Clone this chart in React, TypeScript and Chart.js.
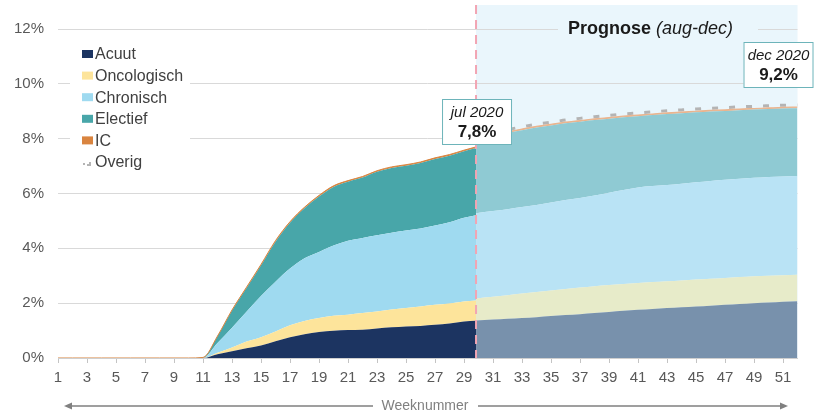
import React, { useEffect, useRef } from 'react';
import { Chart, registerables } from 'chart.js';

Chart.register(...registerables);

const FONT = '"Liberation Sans", Arial, Helvetica, sans-serif';

// week where the forecast (prognose) starts
const forecastStart = 29.83;

const histWeeks = [1, 2, 3, 4, 5, 6, 7, 8, 9, 10, 11, 12, 13, 14, 15, 16, 17, 18, 19, 20, 21, 22, 23, 24, 25, 26, 27, 28, 29, forecastStart];
const progWeeks = [forecastStart, 31, 32, 33, 34, 35, 36, 37, 38, 39, 40, 41, 42, 43, 44, 45, 46, 47, 48, 49, 50, 51, 52];
const weekTicks = [1, 3, 5, 7, 9, 11, 13, 15, 17, 19, 21, 23, 25, 27, 29, 31, 33, 35, 37, 39, 41, 43, 45, 47, 49, 51];

const seriesLabels = ['Acuut', 'Oncologisch', 'Chronisch', 'Electief', 'IC', 'Overig'];

// historical values (% per category), weeks 1..29 + start of forecast
const acuutHist = [0, 0, 0, 0, 0, 0, 0, 0, 0, 0, 0, 0.14, 0.25, 0.36, 0.46, 0.61, 0.76, 0.87, 0.95, 0.99, 1.02, 1.03, 1.08, 1.12, 1.15, 1.17, 1.21, 1.26, 1.33, 1.36];
const oncoHist = [0, 0, 0, 0, 0, 0, 0, 0, 0, 0, 0, 0.05, 0.13, 0.24, 0.30, 0.36, 0.43, 0.48, 0.51, 0.55, 0.56, 0.61, 0.62, 0.65, 0.67, 0.71, 0.73, 0.73, 0.73, 0.74];
const chronHist = [0, 0, 0, 0, 0, 0, 0, 0, 0, 0, 0.01, 0.36, 0.72, 1.09, 1.50, 1.81, 2.07, 2.29, 2.41, 2.56, 2.70, 2.74, 2.78, 2.80, 2.83, 2.84, 2.89, 2.96, 3.06, 3.11];
const electHist = [0, 0, 0, 0, 0, 0, 0, 0, 0, 0, 0.01, 0.24, 0.63, 0.86, 1.12, 1.46, 1.67, 1.82, 2.02, 2.14, 2.15, 2.20, 2.31, 2.36, 2.36, 2.39, 2.43, 2.43, 2.42, 2.45];
const icHist = [0, 0, 0, 0, 0, 0, 0, 0, 0, 0, 0, 0.01, 0.02, 0.03, 0.03, 0.04, 0.04, 0.04, 0.04, 0.04, 0.04, 0.04, 0.04, 0.04, 0.04, 0.04, 0.04, 0.04, 0.04, 0.04];

// forecast values (% per category)
const acuutProg = [1.37, 1.40, 1.43, 1.46, 1.49, 1.53, 1.57, 1.60, 1.64, 1.68, 1.72, 1.76, 1.79, 1.82, 1.85, 1.88, 1.91, 1.94, 1.97, 2.00, 2.02, 2.05, 2.07];
const oncoProg = [0.80, 0.83, 0.86, 0.89, 0.92, 0.93, 0.95, 0.97, 0.98, 0.98, 0.98, 0.98, 0.98, 0.98, 0.98, 0.98, 0.98, 0.98, 0.98, 0.98, 0.98, 0.97, 0.97];
const chronProg = [3.11, 3.13, 3.14, 3.16, 3.17, 3.21, 3.24, 3.27, 3.31, 3.37, 3.43, 3.48, 3.50, 3.51, 3.53, 3.55, 3.57, 3.58, 3.59, 3.59, 3.60, 3.60, 3.60];
const electProg = [2.70, 2.74, 2.78, 2.80, 2.83, 2.81, 2.80, 2.78, 2.75, 2.70, 2.65, 2.60, 2.59, 2.59, 2.57, 2.55, 2.53, 2.51, 2.50, 2.49, 2.48, 2.48, 2.47];
const icProg = [0.04, 0.04, 0.04, 0.04, 0.04, 0.04, 0.04, 0.04, 0.04, 0.04, 0.04, 0.04, 0.04, 0.04, 0.04, 0.04, 0.04, 0.04, 0.04, 0.04, 0.04, 0.04, 0.04];
const overigProg = [0.08, 0.08, 0.08, 0.08, 0.08, 0.08, 0.08, 0.08, 0.08, 0.08, 0.08, 0.08, 0.08, 0.08, 0.08, 0.08, 0.08, 0.08, 0.08, 0.08, 0.08, 0.08, 0.08];

const yMax = 12;
const yStep = 2;

const julLabel = ['jul 2020', '7,8%'];
const decLabel = ['dec 2020', '9,2%'];
const titleBold = 'Prognose';
const titleItalic = '(aug-dec)';
const axisTitle = 'Weeknummer';

const histColors = ['#1c3461', '#fde49b', '#9fdaf0', '#48a6a9', '#d9843f'];
const progColors = ['#7891ac', '#e7ebc9', '#b9e3f5', '#8fcad3', '#eab48e'];
const overigColor = '#b4b4b4';
const prognoseBg = '#eaf6fc';
const boxBorder = '#6db4ba';

const toPts = (weeks: number[], vals: number[]) => weeks.map((x, i) => ({ x, y: vals[i] }));

const histSeries = [acuutHist, oncoHist, chronHist, electHist, icHist];
const progSeries = [acuutProg, oncoProg, chronProg, electProg, icProg];

const decorPlugin = {
  id: 'decor',
  beforeDraw(chart: any) {
    const { ctx, chartArea, scales } = chart;
    const xs = scales.x.getPixelForValue(forecastStart);
    ctx.save();
    ctx.fillStyle = prognoseBg;
    ctx.fillRect(xs, 5, chartArea.right - xs, chartArea.bottom - 5);
    ctx.restore();
  },
  afterDatasetsDraw(chart: any) {
    const { ctx, chartArea, scales } = chart;
    const xs = scales.x.getPixelForValue(forecastStart);
    ctx.save();
    // dashed forecast divider
    ctx.strokeStyle = '#f2a5b3';
    ctx.lineWidth = 2;
    ctx.setLineDash([9, 6]);
    ctx.beginPath();
    ctx.moveTo(xs, 5);
    ctx.lineTo(xs, chartArea.bottom);
    ctx.stroke();
    ctx.setLineDash([]);

    // title
    ctx.fillStyle = prognoseBg;
    ctx.fillRect(558, 18, 200, 22);
    ctx.textBaseline = 'alphabetic';
    ctx.textAlign = 'left';
    ctx.fillStyle = '#1a1a1a';
    ctx.font = `bold 18px ${FONT}`;
    const wb = ctx.measureText(titleBold + ' ').width;
    ctx.fillText(titleBold + ' ', 568, 34);
    ctx.font = `italic 18px ${FONT}`;
    ctx.fillText(titleItalic, 568 + wb, 34);

    // value boxes
    const drawBox = (cx: number, top: number, lines: string[]) => {
      const w = 70, h = 46;
      ctx.fillStyle = '#ffffff';
      ctx.fillRect(cx - w / 2, top, w, h);
      ctx.strokeStyle = boxBorder;
      ctx.lineWidth = 1;
      ctx.strokeRect(cx - w / 2 + 0.5, top + 0.5, w - 1, h - 1);
      ctx.textAlign = 'center';
      ctx.fillStyle = '#1a1a1a';
      ctx.font = `italic 15px ${FONT}`;
      ctx.fillText(lines[0], cx, top + 18);
      ctx.font = `bold 17px ${FONT}`;
      ctx.fillText(lines[1], cx, top + 38);
    };
    drawBox(xs + 1, 99, julLabel);
    drawBox(chartArea.right - 19, 42, decLabel);

    // legend
    ctx.fillStyle = '#ffffff';
    ctx.fillRect(70, 40, 120, 133);
    ctx.textAlign = 'left';
    ctx.textBaseline = 'middle';
    ctx.font = `16px ${FONT}`;
    seriesLabels.forEach((lab, i) => {
      const cy = 54 + i * 21.6;
      if (i < 5) {
        ctx.fillStyle = histColors[i];
        ctx.fillRect(82, cy - 4, 11, 8);
      } else {
        ctx.strokeStyle = overigColor;
        ctx.lineWidth = 2;
        ctx.beginPath();
        ctx.moveTo(83, cy + 2);
        ctx.lineTo(85, cy + 2);
        ctx.moveTo(87, cy + 3);
        ctx.lineTo(90, cy + 3);
        ctx.lineTo(90, cy);
        ctx.stroke();
      }
      ctx.fillStyle = '#404040';
      ctx.fillText(lab, 95, cy + 1);
    });

    // axis title with arrows
    const ay = 406;
    ctx.strokeStyle = '#808080';
    ctx.fillStyle = '#808080';
    ctx.lineWidth = 1.5;
    ctx.beginPath();
    ctx.moveTo(70, ay);
    ctx.lineTo(373, ay);
    ctx.moveTo(478, ay);
    ctx.lineTo(782, ay);
    ctx.stroke();
    ctx.beginPath();
    ctx.moveTo(64, ay);
    ctx.lineTo(72, ay - 3.5);
    ctx.lineTo(72, ay + 3.5);
    ctx.closePath();
    ctx.fill();
    ctx.beginPath();
    ctx.moveTo(788, ay);
    ctx.lineTo(780, ay - 3.5);
    ctx.lineTo(780, ay + 3.5);
    ctx.closePath();
    ctx.fill();
    ctx.font = `14px ${FONT}`;
    ctx.textAlign = 'center';
    ctx.fillText(axisTitle, 425, ay);
    ctx.restore();
  },
};

export default function App() {
  const ref = useRef<HTMLCanvasElement>(null);
  useEffect(() => {
    const datasets: any[] = [
      ...histSeries.map((vals, i) => ({
        label: seriesLabels[i],
        data: toPts(histWeeks, vals),
        stack: 'hist',
        fill: i === 0 ? 'origin' : '-1',
        backgroundColor: histColors[i],
        borderColor: histColors[i],
        borderWidth: i === 4 ? 1 : 0,
        pointRadius: 0,
        cubicInterpolationMode: 'monotone',
      })),
      ...progSeries.map((vals, i) => ({
        label: seriesLabels[i],
        data: toPts(progWeeks, vals),
        stack: 'prog',
        fill: i === 0 ? 'origin' : '-1',
        backgroundColor: progColors[i],
        borderColor: progColors[i],
        borderWidth: i === 4 ? 1.2 : 0,
        pointRadius: 0,
        cubicInterpolationMode: 'monotone',
      })),
      {
        label: seriesLabels[5],
        data: toPts(progWeeks, overigProg),
        stack: 'prog',
        fill: false,
        backgroundColor: 'transparent',
        borderColor: overigColor,
        borderWidth: 3,
        borderDash: [6, 11],
        pointRadius: 0,
        cubicInterpolationMode: 'monotone',
      },
    ];
    const chart = new Chart(ref.current as HTMLCanvasElement, {
      type: 'line',
      data: { datasets },
      options: {
        animation: false,
        responsive: true,
        maintainAspectRatio: false,
        layout: { padding: { top: 29, right: 16.5, left: 0, bottom: 0 } },
        plugins: {
          legend: { display: false },
          tooltip: { enabled: false },
          filler: { drawTime: 'beforeDatasetsDraw', propagate: false },
        } as any,
        scales: {
          x: {
            type: 'linear',
            min: 1,
            max: 52,
            afterBuildTicks: (s: any) => {
              s.ticks = weekTicks.map((v) => ({ value: v }));
            },
            afterFit: (s: any) => {
              s.height = 56;
            },
            ticks: {
              autoSkip: false,
              maxRotation: 0,
              padding: 6,
              color: '#595959',
              font: { family: FONT, size: 15 },
              callback: (v: any) => String(v),
            },
            grid: { drawOnChartArea: false, drawTicks: true, tickLength: 5, tickColor: '#c4c4c4' },
            border: { display: true, color: '#cfcfcf', width: 1 },
          },
          y: {
            stacked: true,
            min: 0,
            max: yMax,
            afterFit: (s: any) => {
              s.width = 58;
            },
            ticks: {
              stepSize: yStep,
              padding: 14,
              color: '#595959',
              font: { family: FONT, size: 15 },
              callback: (v: any) => `${v}%`,
            },
            grid: { color: '#d9d9d9', drawTicks: false },
            border: { display: false },
          },
        } as any,
      },
      plugins: [decorPlugin],
    });
    return () => chart.destroy();
  }, []);
  return (
    <div style={{ position: 'absolute', left: 0, top: 0, width: 814, height: 414, background: '#ffffff' }}>
      <canvas ref={ref} />
    </div>
  );
}
